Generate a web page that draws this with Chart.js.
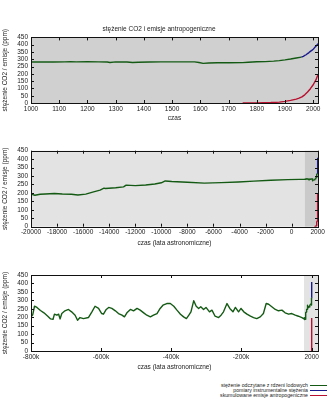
<!DOCTYPE html>
<html lang="pl">
<head>
<meta charset="utf-8">
<title>stężenie CO2 i emisje antropogeniczne</title>
<script src="https://cdn.jsdelivr.net/npm/chart.js@4"></script>
<style>
  body { margin: 0; background: #fff; width: 330px; height: 412px; position: relative; overflow: hidden;
         font-family: "Liberation Sans", Arial, sans-serif; }
  canvas { position: absolute; left: 0; }
  #legend { position: absolute; right: 3px; top: 383px; font-size: 5.2px; line-height: 5px; color: #222; }
  #legend div { display: flex; align-items: center; justify-content: flex-end; height: 5px; }
  #legend .swatch { display: inline-block; width: 17px; height: 0; border-top: 1.2px solid; margin-left: 2px; }
</style>
</head>
<body>
<canvas id="recent" width="330" height="123" style="top:0"></canvas>
<canvas id="holocene" width="330" height="123" style="top:125px"></canvas>
<canvas id="glacial" width="330" height="122" style="top:250px"></canvas>
<div id="legend"></div>
<script>
// Ice-core CO2 since 1000 AD (ppm)
const iceYears = [1000, 1040, 1080, 1120, 1140, 1160, 1200, 1240, 1270, 1280, 1300, 1340, 1360, 1380, 1420,
  1460, 1500, 1540, 1580, 1595, 1610, 1630, 1660, 1700, 1750, 1770, 1800, 1830, 1860, 1880, 1900, 1920, 1940, 1958];
const icePpm = [281, 282, 281, 282, 284, 282, 283, 282, 281, 278, 282, 281, 278, 280, 281,
  282, 282, 282, 282, 278, 272, 274, 276, 276, 277, 280, 283, 284, 287, 291, 296, 302, 309, 315];

// Instrumental measurements (ppm)
const measuredYears = [1958, 1965, 1970, 1975, 1980, 1985, 1990, 1995, 2000, 2005, 2010, 2015, 2017];
const measuredPpm = [315, 320, 326, 331, 339, 346, 354, 361, 369, 380, 390, 401, 408];

// Cumulative anthropogenic emissions expressed in ppm
const emissionYears = [1750, 1800, 1850, 1880, 1900, 1920, 1940, 1950, 1960, 1970, 1980, 1990, 2000, 2010, 2017];
const emissionPpm = [0, 1, 3, 6, 11, 18, 27, 33, 42, 56, 75, 98, 125, 160, 195];

// Last deglaciation and Holocene, -20000 .. 999
const holoYears = [-20000, -19700, -19300, -18900, -18200, -17600, -16900, -16400, -15800, -15200, -14700,
  -14400, -14300, -13500, -12900, -12700, -12000, -11200, -10500, -10000, -9700, -9200, -8000, -6700,
  -5400, -4100, -2900, -1600, -300, 600];
const holoPpm = [193, 186, 192, 194, 197, 194, 192, 188, 193, 206, 217,
  228, 226, 231, 236, 246, 243, 247, 253, 260, 271, 268, 263, 258,
  261, 265, 270, 275, 279, 280];

// 800 kyr record, -800000 .. -21000
const longYears = [-800000, -795000, -790000, -783000, -773000, -763000, -752000, -744000, -737000, -733000,
  -726000, -721000, -717000, -712000, -703000, -693000, -684000, -674000, -667000, -660000, -650000,
  -636000, -626000, -617000, -607000, -598000, -593000, -585000, -578000, -569000, -559000, -550000,
  -540000, -533000, -526000, -516000, -507000, -497000, -488000, -478000, -469000, -459000, -450000,
  -440000, -431000, -423000, -412000, -402000, -392000, -383000, -373000, -364000, -356000, -349000,
  -343000, -335000, -328000, -321000, -315000, -307000, -300000, -290000, -283000, -274000, -264000,
  -257000, -250000, -240000, -232000, -223000, -216000, -207000, -200000, -192000, -183000, -173000,
  -164000, -155000, -145000, -136000, -128000, -121000, -112000, -102000, -93000, -83000, -74000,
  -64000, -55000, -45000, -36000, -26000, -21000];
const longPpm = [202, 215, 265, 258, 240, 226, 206, 190, 188, 218,
  212, 218, 190, 222, 238, 246, 232, 212, 182, 198, 192,
  198, 232, 265, 252, 222, 218, 246, 258, 252, 238, 222,
  212, 202, 226, 246, 238, 252, 242, 226, 212, 202, 212,
  222, 252, 271, 281, 281, 265, 242, 218, 202, 192, 212,
  232, 298, 265, 252, 262, 246, 258, 232, 242, 206, 198,
  212, 232, 281, 252, 232, 258, 232, 252, 232, 218, 206,
  198, 192, 202, 222, 281, 277, 262, 246, 238, 242, 226,
  218, 222, 212, 206, 198, 192];

const yTicks = [0, 50, 100, 150, 200, 250, 300, 350, 400, 450];
const recentTicks = [1000, 1100, 1200, 1300, 1400, 1500, 1600, 1700, 1800, 1900, 2000];
const holoTicks = [-20000, -18000, -16000, -14000, -12000, -10000, -8000, -6000, -4000, -2000, 0, 2000];
const longTicks = [-800000, -600000, -400000, -200000, 2000];

const seriesNames = ['stężenie odczytane z rdzeni lodowych', 'pomiary instrumentalne stężenia',
  'skumulowane emisje antropogeniczne'];
const seriesColors = ['#145a14', '#1a1a8f', '#b8102e'];

const font = { family: '"Liberation Sans", Arial, sans-serif', size: 6.5 };
const textColor = '#222';

function points(xs, ys) {
  return xs.map((x, i) => ({ x: x, y: ys[i] }));
}

// Shaded x-ranges behind the data, plus a frame with inward ticks on all sides
const frameAndTicks = {
  id: 'frameAndTicks',
  beforeDatasetsDraw(chart, args, opts) {
    const { ctx, chartArea: a, scales: { x } } = chart;
    ctx.save();
    (opts.bands || []).forEach(b => {
      const x0 = Math.max(x.getPixelForValue(b.from), a.left);
      const x1 = Math.min(x.getPixelForValue(b.to), a.right);
      ctx.fillStyle = b.color;
      ctx.fillRect(x0, a.top, x1 - x0, a.bottom - a.top);
    });
    ctx.restore();
  },
  afterDatasetsDraw(chart) {
    const { ctx, chartArea: a, scales: { x, y } } = chart;
    const len = 3;
    ctx.save();
    ctx.strokeStyle = '#111';
    ctx.lineWidth = 1;
    ctx.beginPath();
    x.ticks.forEach(t => {
      const px = Math.round(x.getPixelForValue(t.value)) + 0.5;
      ctx.moveTo(px, a.bottom); ctx.lineTo(px, a.bottom - len);
      ctx.moveTo(px, a.top); ctx.lineTo(px, a.top + len);
    });
    y.ticks.forEach(t => {
      const py = Math.round(y.getPixelForValue(t.value)) + 0.5;
      ctx.moveTo(a.left, py); ctx.lineTo(a.left + len, py);
      ctx.moveTo(a.right, py); ctx.lineTo(a.right - len, py);
    });
    ctx.stroke();
    ctx.strokeRect(Math.round(a.left) + 0.5, Math.round(a.top) + 0.5,
      Math.round(a.right - a.left), Math.round(a.bottom - a.top));
    ctx.restore();
  }
};

function makeChart(id, o) {
  const sets = [
    points(o.iceX, o.iceY),
    points(measuredYears, measuredPpm),
    points(emissionYears, emissionPpm)
  ];
  return new Chart(document.getElementById(id), {
    type: 'line',
    data: {
      datasets: sets.map((d, i) => ({
        label: seriesNames[i],
        data: d,
        borderColor: seriesColors[i],
        borderWidth: 1.4,
        pointRadius: 0,
        tension: 0,
        borderJoinStyle: 'round'
      }))
    },
    options: {
      responsive: false,
      animation: false,
      events: [],
      layout: { padding: { top: o.padTop, right: 12, left: 0, bottom: 0 } },
      plugins: {
        legend: { display: false },
        tooltip: { enabled: false },
        title: o.title ? {
          display: true, text: o.title, color: textColor,
          font: { ...font, weight: 'normal' }, padding: { top: 25, bottom: 4.6 }
        } : { display: false },
        frameAndTicks: { bands: o.bands }
      },
      scales: {
        x: {
          type: 'linear', min: o.min, max: o.max,
          afterBuildTicks: s => { s.ticks = o.ticks.map(v => ({ value: v })); },
          afterFit: s => { s.height = o.xHeight; },
          grid: { display: false, drawTicks: false },
          border: { display: false },
          ticks: { font, color: textColor, padding: 2, maxRotation: 0, autoSkip: false,
            callback: o.label || (v => String(v)) },
          title: { display: true, text: o.xTitle, font, color: textColor, padding: { top: 0, bottom: 1 } }
        },
        y: {
          min: 0, max: 450,
          afterBuildTicks: s => { s.ticks = yTicks.map(v => ({ value: v })); },
          afterFit: s => { s.width = 31; },
          grid: { display: false, drawTicks: false },
          border: { display: false },
          ticks: { font, color: textColor, padding: 3, autoSkip: false },
          title: { display: true, text: 'stężenie CO2 / emisje (ppm)', font, color: textColor,
            padding: { top: 1, bottom: 0 } }
        }
      }
    },
    plugins: [frameAndTicks]
  });
}

makeChart('recent', {
  title: 'stężenie CO2 i emisje antropogeniczne',
  padTop: 0, xHeight: 20, min: 1000, max: 2017, ticks: recentTicks, xTitle: 'czas',
  iceX: iceYears, iceY: icePpm,
  bands: [{ from: 1000, to: 2017, color: '#d0d0d0' }]
});

makeChart('holocene', {
  padTop: 25.7, xHeight: 21.3, min: -20000, max: 2020, ticks: holoTicks,
  xTitle: 'czas (lata astronomiczne)',
  iceX: holoYears.concat(iceYears), iceY: holoPpm.concat(icePpm),
  bands: [{ from: -20000, to: 1000, color: '#e3e3e3' }, { from: 1000, to: 2020, color: '#cacaca' }]
});

makeChart('glacial', {
  padTop: 25, xHeight: 21, min: -800000, max: 20000, ticks: longTicks,
  xTitle: 'czas (lata astronomiczne)',
  label: v => v === 2000 ? '2000' : (v / 1000) + 'k',
  iceX: longYears.concat(holoYears, iceYears), iceY: longPpm.concat(holoPpm, icePpm),
  bands: [{ from: -20000, to: 20000, color: '#e3e3e3' }]
});

// Legend: name on the left, line sample on the right
const legend = document.getElementById('legend');
seriesNames.forEach((name, i) => {
  const row = document.createElement('div');
  row.innerHTML = '<span>' + name + '</span><span class="swatch" style="border-color:' + seriesColors[i] + '"></span>';
  legend.appendChild(row);
});
</script>
</body>
</html>
